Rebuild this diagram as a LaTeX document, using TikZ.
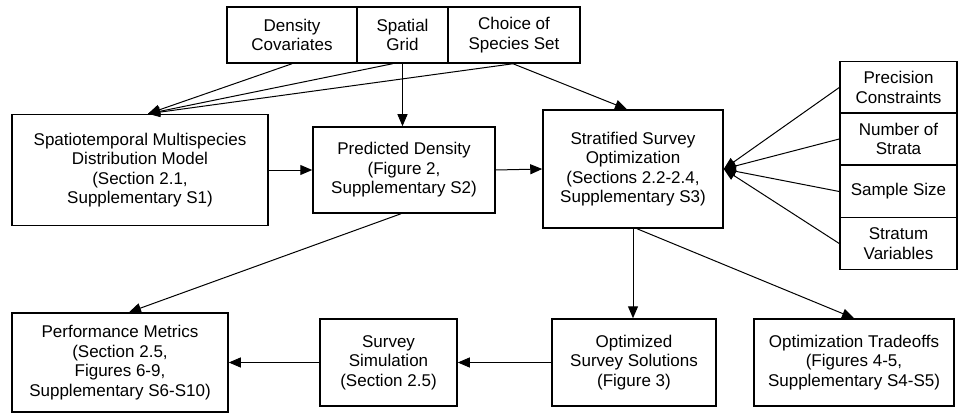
\documentclass[tikz,border=0pt]{standalone}
\usepackage{fontspec}
\setmainfont{Liberation Sans}
\usetikzlibrary{arrows.meta,positioning}

\begin{document}
\begin{tikzpicture}[x=1pt,y=-1pt,
	box/.style={draw,line width=1.5pt,align=center,inner sep=2pt,font=\fontsize{17}{19.5}\selectfont},
	link/.style={-{Triangle[length=12pt,width=10pt]},line width=1pt}]
\useasboundingbox (0,0) rectangle (960,417);
% inputs on top
\node[box,minimum width=130,minimum height=56] at (292,35) (dens) {Density\\Covariates};
\node[box,minimum width=91,minimum height=56] at (402.5,35) (grid) {Spatial\\Grid};
\node[box,minimum width=132,minimum height=56] at (514,35) (choice) {Choice of\\Species Set};
% middle row
\node[box,minimum width=256,minimum height=111] at (140,170) (sdm) {Spatiotemporal Multispecies\\Distribution Model\\(Section 2.1,\\Supplementary S1)};
\node[box,minimum width=182,minimum height=86] at (404,170) (pred) {Predicted Density\\(Figure 2,\\Supplementary S2)};
\node[box,minimum width=180,minimum height=118] at (633,169) (opt) {Stratified Survey\\Optimization\\(Sections 2.2-2.4,\\Supplementary S3)};
\foreach \y/\txt [count=\i] in {87.5/{Precision\\Constraints},139/{Number of\\Strata},191.5/{Sample Size},243.5/{Stratum\\Variables}}
	\node[box,minimum width=117,minimum height=52] at (898.5,\y) (c\i) {\txt};
% bottom row
\node[box,minimum width=216,minimum height=99] at (120,362.5) (perf) {Performance Metrics\\(Section 2.5,\\Figures 6-9,\\Supplementary S6-S10)};
\node[box,minimum width=137,minimum height=87] at (388.5,362.5) (sim) {Survey\\Simulation\\(Section 2.5)};
\node[box,minimum width=164,minimum height=87] at (634,362.5) (sol) {Optimized\\Survey Solutions\\(Figure 3)};
\node[box,minimum width=200,minimum height=87] at (854,362.5) (trade) {Optimization Tradeoffs\\(Figures 4-5,\\Supplementary S4-S5)};

\foreach \n/\s in {dens/0,grid/-10,choice/-1}
	\draw[link] ([xshift=\s]\n.south) -- ([xshift=8]sdm.north);
\draw[link] (grid.south) -- (grid.south |- pred.north);
\draw[link] ([xshift=-1]choice.south) -- ([xshift=-6]opt.north);
\draw[link] (sdm.east) -- (pred.west);
\draw[link] (pred.east) -- (opt.west);
\foreach \i in {1,...,4}
	\draw[link] (c\i.west) -- (opt.east);
\draw[link] ([xshift=-3]pred.south) -- ([xshift=9]perf.north);
\draw[link] (opt.south) -- (opt.south |- sol.north);
\draw[link] ([xshift=4]opt.south) -- (trade.north);
\draw[link] (sol.west) -- (sim.east);
\draw[link] (sim.west) -- (perf.east);
\end{tikzpicture}
\end{document}
